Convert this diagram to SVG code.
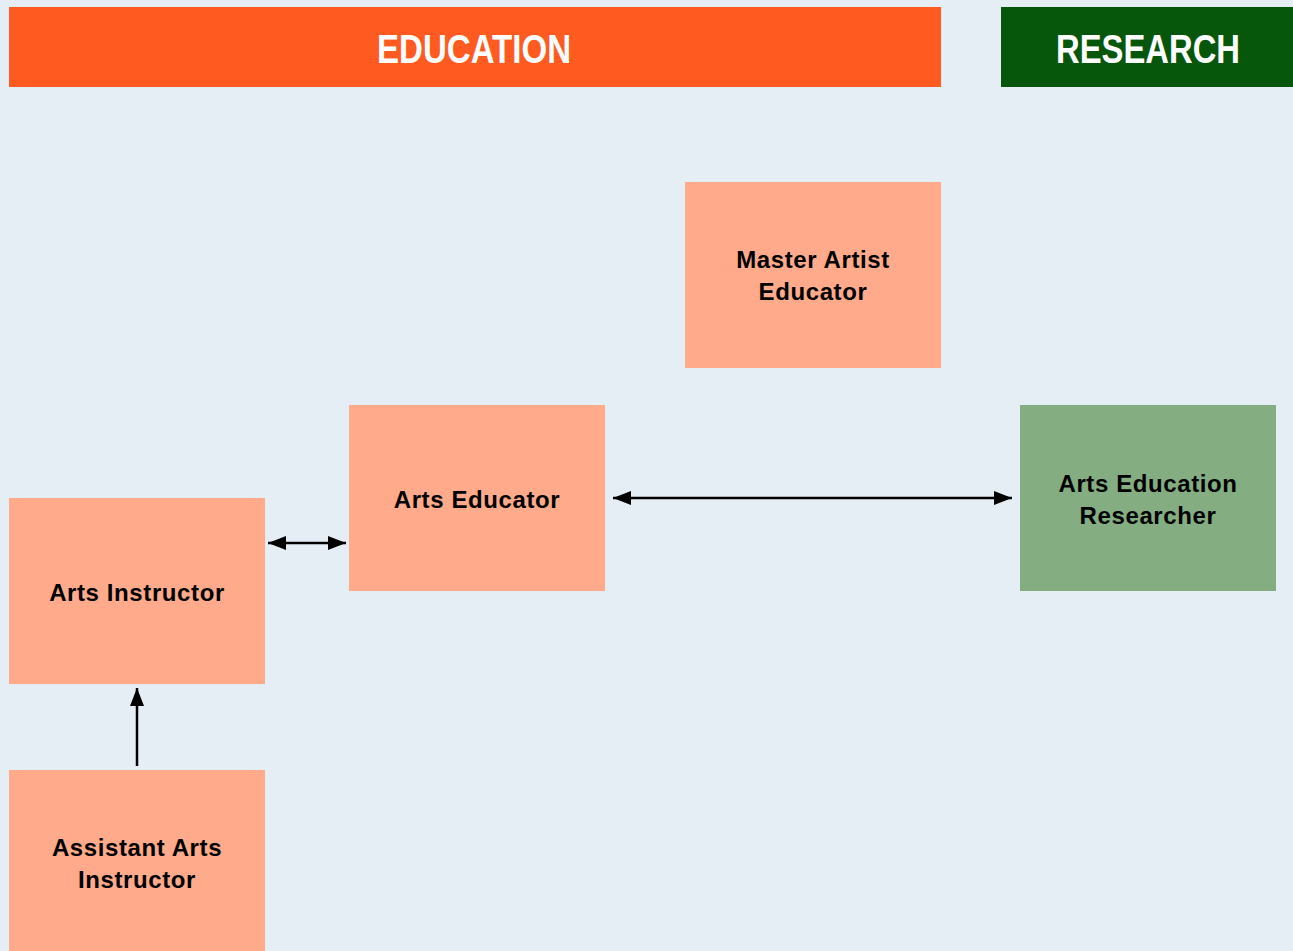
<svg xmlns="http://www.w3.org/2000/svg" width="1293" height="951" viewBox="0 0 1293 951">
<defs>
<marker id="ah" viewBox="0 0 18 14" refX="18" refY="7" markerWidth="18" markerHeight="14" markerUnits="userSpaceOnUse" orient="auto-start-reverse">
<path d="M0,0 L18,7 L0,14 Z" fill="#000"/>
</marker>
</defs>
<style>
.bg{fill:#E6EEF5}
.edu{fill:#FFAA8A}
.res{fill:#84AE82}
.t{font-family:"Liberation Sans",Arial,sans-serif;font-weight:bold;font-size:24px;letter-spacing:0.6px;fill:#000;text-anchor:middle}
.h{font-family:"Liberation Sans",Arial,sans-serif;font-weight:bold;font-size:40px;fill:#fff;text-anchor:middle}
.c{stroke:#000;stroke-width:2.5;fill:none}
</style>
<rect class="bg" x="0" y="0" width="1293" height="951"/>
<g id="header-education">
<rect x="9" y="7" width="932" height="80" fill="#FF5A1F"/>
<text class="h" x="474" y="63" textLength="194" lengthAdjust="spacingAndGlyphs">EDUCATION</text>
</g>
<g id="header-research">
<rect x="1001" y="7" width="292" height="80" fill="#06570B"/>
<text class="h" x="1148" y="63" textLength="184" lengthAdjust="spacingAndGlyphs">RESEARCH</text>
</g>
<g id="connectors">
<line class="c" x1="268" y1="543" x2="346" y2="543" marker-start="url(#ah)" marker-end="url(#ah)"/>
<line class="c" x1="613" y1="498" x2="1012" y2="498" marker-start="url(#ah)" marker-end="url(#ah)"/>
<line class="c" x1="137" y1="766" x2="137" y2="688" marker-end="url(#ah)"/>
</g>
<g id="master-artist-educator">
<rect class="edu" x="685" y="182" width="256" height="186"/>
<text class="t" x="813" y="268">Master Artist</text>
<text class="t" x="813" y="300">Educator</text>
</g>
<g id="arts-educator">
<rect class="edu" x="349" y="405" width="256" height="186"/>
<text class="t" x="477" y="508">Arts Educator</text>
</g>
<g id="arts-education-researcher">
<rect class="res" x="1020" y="405" width="256" height="186"/>
<text class="t" x="1148" y="492">Arts Education</text>
<text class="t" x="1148" y="524">Researcher</text>
</g>
<g id="arts-instructor">
<rect class="edu" x="9" y="498" width="256" height="186"/>
<text class="t" x="137" y="601">Arts Instructor</text>
</g>
<g id="assistant-arts-instructor">
<rect class="edu" x="9" y="770" width="256" height="186"/>
<text class="t" x="137" y="856">Assistant Arts</text>
<text class="t" x="137" y="888">Instructor</text>
</g>
</svg>
